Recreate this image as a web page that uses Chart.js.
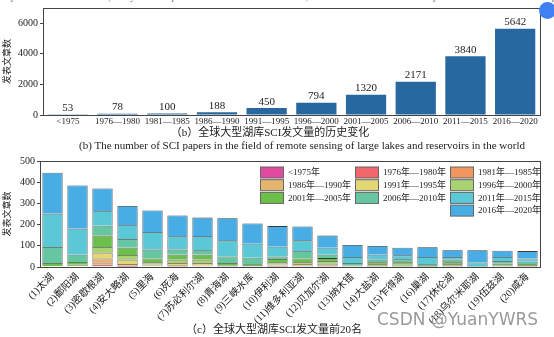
<!DOCTYPE html>
<html>
<head>
<meta charset="utf-8">
<script src="https://cdn.jsdelivr.net/npm/chart.js@4.4.1/dist/chart.umd.min.js"></script>
<style>
body { margin: 0; background: #fff; width: 554px; height: 337px; overflow: hidden; position: relative;
  font-family: 'Liberation Serif', 'Noto Sans CJK SC', serif; color: #222; }
canvas { position: absolute; left: 0; }
#topChart { top: 0; }
#bottomChart { top: 150px; }
.txt { position: absolute; white-space: nowrap; }
#cutLine { top: -10px; left: 2px; font-size: 11px; color: #777; }
#capB { top: 123px; left: 0; width: 540px; text-align: center; font-size: 11px; }
#capBen { top: 139px; left: 0; width: 604px; text-align: center; font-size: 11px; }
#capC { top: 320px; left: 0; width: 548px; text-align: center; font-size: 11px; }
#mark { top: 309px; left: 377px; font-family: 'DejaVu Sans', sans-serif; font-size: 17px; color: #9a9a9a; }
#icon { position: absolute; left: 539px; top: 2px; width: 17px; height: 17px; border-radius: 50%; background: #3f80f2; }
</style>
</head>
<body>
<div class="txt" id="cutLine">represents natural lakes ; the yellow represents man-made reservoirs ; and the bars of the charts represent the number of SCI papers published</div>
<canvas id="topChart" width="554" height="135"></canvas>
<div id="icon"></div>
<div class="txt" id="capB">（b）全球大型湖库SCI发文量的历史变化</div>
<div class="txt" id="capBen">(b) The number of SCI papers in the field of remote sensing of large lakes and reservoirs in the world</div>
<canvas id="bottomChart" width="554" height="187"></canvas>
<div class="txt" id="capC">（c）全球大型湖库SCI发文量前20名</div>
<div class="txt" id="mark">CSDN @YuanYWRS</div>
<script>
var serif = "'Liberation Serif', 'Noto Sans CJK SC', serif";

// (b) papers per period
var periods = ['<1975', '1976—1980', '1981—1985', '1986—1990', '1991—1995', '1996—2000', '2001—2005', '2006—2010', '2011—2015', '2016—2020'];
var paperCounts = [53, 78, 100, 188, 450, 794, 1320, 2171, 3840, 5642];
var topTicks = [0, 2000, 4000, 6000];

// (c) top 20 lakes, one array per period
var lakes = ['(1)太湖', '(2)鄱阳湖', '(3)密歇根湖', '(4)安大略湖', '(5)里海', '(6)死海', '(7)苏必利尔湖', '(8)青海湖', '(9)三峡水库', '(10)伊利湖',
  '(11)维多利亚湖', '(12)贝加尔湖', '(13)纳木错', '(14)大盐湖', '(15)乍得湖', '(16)巢湖', '(17)休伦湖', '(18)乌尔米耶湖', '(19)伍兹湖', '(20)咸海'];
var legendNames = ['<1975年', '1976年—1980年', '1981年—1985年', '1986年—1990年', '1991年—1995年', '1996年—2000年', '2001年—2005年', '2006年—2010年', '2011年—2015年', '2016年—2020年'];
var p1975 = [0, 0, 3, 1, 0, 0, 0, 0, 0, 1, 0, 0, 0, 0, 0, 0, 0, 0, 0, 0];
var p1980 = [0, 0, 8, 5, 2, 1, 4, 0, 0, 2, 1, 1, 0, 0, 0, 0, 1, 0, 0, 0];
var p1985 = [0, 0, 10, 0, 2, 2, 2, 1, 0, 2, 1, 2, 0, 1, 1, 0, 1, 0, 0, 0];
var p1990 = [0, 2, 19, 8, 2, 5, 2, 0, 0, 2, 2, 4, 0, 1, 1, 0, 1, 0, 1, 1];
var p1995 = [2, 2, 28, 21, 5, 11, 11, 2, 0, 4, 9, 9, 0, 3, 3, 0, 2, 0, 1, 1];
var p2000 = [2, 7, 26, 22, 11, 16, 16, 5, 5, 11, 9, 12, 2, 8, 6, 1, 8, 0, 5, 3];
var p2005 = [15, 13, 54, 34, 18, 23, 23, 11, 8, 16, 18, 14, 5, 9, 11, 4, 9, 1, 9, 8];
var p2010 = [75, 34, 47, 41, 42, 24, 21, 31, 31, 12, 34, 16, 12, 13, 14, 8, 13, 4, 12, 12];
var p2015 = [158, 123, 68, 65, 83, 63, 67, 76, 66, 46, 52, 33, 28, 23, 19, 34, 12, 16, 19, 15];
var p2020 = [193, 204, 107, 91, 102, 98, 87, 104, 95, 97, 65, 57, 57, 41, 36, 46, 32, 58, 30, 35];
var bottomTicks = [0, 100, 200, 300, 400, 500];

var periodData = [p1975, p1980, p1985, p1990, p1995, p2000, p2005, p2010, p2015, p2020];
var periodColors = ['#e04a9f', '#ef676b', '#f09660', '#e5b46f', '#e2d774', '#a8d373', '#6cbf4b', '#66c6a1', '#5bc8d7', '#48ade5'];

// draws a box round the plot area
var framePlugin = {
  id: 'frame',
  afterDraw: function (chart) {
    var a = chart.chartArea;
    var ctx = chart.ctx;
    ctx.save();
    ctx.strokeStyle = '#444';
    ctx.lineWidth = 1;
    ctx.strokeRect(Math.round(a.left) + 0.5, Math.round(a.top) + 0.5, Math.round(a.right - a.left), Math.round(a.bottom - a.top));
    ctx.restore();
  }
};

// number above each bar of chart (b)
var valuePlugin = {
  id: 'values',
  afterDatasetsDraw: function (chart) {
    var ctx = chart.ctx;
    var meta = chart.getDatasetMeta(0);
    ctx.save();
    ctx.font = '11px ' + serif;
    ctx.fillStyle = '#222';
    ctx.textAlign = 'center';
    ctx.textBaseline = 'bottom';
    meta.data.forEach(function (bar, i) {
      ctx.fillText(paperCounts[i], bar.x, bar.y - 1);
    });
    ctx.restore();
  }
};

// 3-column legend inside chart (c)
var gridLegend = {
  id: 'gridLegend',
  afterDraw: function (chart) {
    var a = chart.chartArea;
    var ctx = chart.ctx;
    ctx.save();
    ctx.font = '9px ' + serif;
    ctx.textBaseline = 'middle';
    chart.data.datasets.forEach(function (ds, i) {
      var row = Math.floor(i / 3), col = i % 3;
      if (i === 9) { row = 3; col = 2; }
      var x = a.right - 280 + col * 95;
      var y = a.top + 11.5 + row * 12.7;
      ctx.fillStyle = ds.backgroundColor;
      ctx.fillRect(x, y - 5.5, 24, 11);
      ctx.strokeStyle = '#666';
      ctx.lineWidth = 1;
      ctx.strokeRect(x + 0.5, y - 5.5, 23, 11);
      ctx.fillStyle = '#222';
      ctx.fillText(ds.label, x + 28, y + 0.5);
    });
    ctx.restore();
  }
};

function plainTick(v) { return String(v); }

new Chart(document.getElementById('topChart'), {
  type: 'bar',
  data: {
    labels: periods,
    datasets: [{ data: paperCounts, backgroundColor: '#2868a1', barPercentage: 0.9, categoryPercentage: 0.9 }]
  },
  options: {
    responsive: false,
    animation: false,
    layout: { padding: { top: 8, right: 14, left: 0, bottom: 0 } },
    plugins: { legend: { display: false }, tooltip: { enabled: false } },
    scales: {
      x: {
        grid: { display: false, drawTicks: false, tickLength: 0 },
        border: { color: '#444' },
        ticks: { font: { family: serif, size: 9 }, color: '#222', maxRotation: 0, autoSkip: false, padding: 1 },
        afterFit: function (s) { s.height = 20; }
      },
      y: {
        min: 0, max: 7000,
        afterBuildTicks: function (s) { s.ticks = topTicks.map(function (v) { return { value: v }; }); },
        grid: { drawOnChartArea: false, tickLength: 3, color: '#444' },
        border: { color: '#444' },
        ticks: { font: { family: serif, size: 10 }, color: '#222', padding: 2, callback: plainTick },
        title: { display: true, text: '发表文章数', font: { family: serif, size: 9 }, color: '#222', padding: { top: 2, bottom: 2 } },
        afterFit: function (s) { s.width = 43; }
      }
    }
  },
  plugins: [framePlugin, valuePlugin]
});

var stackSets = [];
for (var i = 0; i < periodData.length; i++) {
  stackSets.push({
    label: legendNames[i],
    data: periodData[i],
    backgroundColor: periodColors[i],
    borderColor: '#3a3a3a',
    borderWidth: 0.8,
    barPercentage: 0.9,
    categoryPercentage: 0.9
  });
}

new Chart(document.getElementById('bottomChart'), {
  type: 'bar',
  data: { labels: lakes, datasets: stackSets },
  options: {
    responsive: false,
    animation: false,
    layout: { padding: { top: 11, right: 14, left: 0, bottom: 0 } },
    plugins: { legend: { display: false }, tooltip: { enabled: false } },
    scales: {
      x: {
        stacked: true,
        grid: { display: false, drawTicks: false, tickLength: 0 },
        border: { color: '#444' },
        ticks: { font: { family: serif, size: 10 }, color: '#222', maxRotation: 45, minRotation: 45, autoSkip: false, padding: 4 },
        afterFit: function (s) { s.height = 70; }
      },
      y: {
        stacked: true,
        min: 0, max: 500,
        afterBuildTicks: function (s) { s.ticks = bottomTicks.map(function (v) { return { value: v }; }); },
        grid: { drawOnChartArea: false, tickLength: 3, color: '#444' },
        border: { color: '#444' },
        ticks: { font: { family: serif, size: 10 }, color: '#222', padding: 2, callback: plainTick },
        title: { display: true, text: '发表文章数', font: { family: serif, size: 9 }, color: '#222', padding: { top: 2, bottom: 2 } },
        afterFit: function (s) { s.width = 40; }
      }
    }
  },
  plugins: [framePlugin, gridLegend]
});
</script>
</body>
</html>
